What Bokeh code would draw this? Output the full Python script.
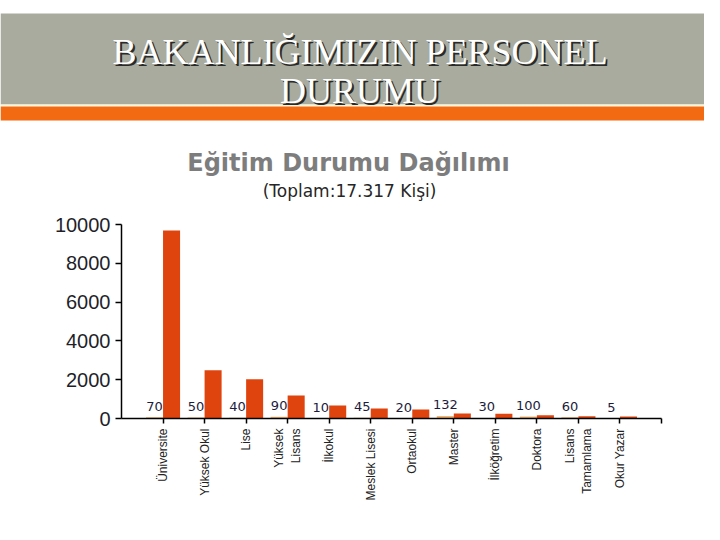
import math
from bokeh.plotting import figure
from bokeh.layouts import column, row
from bokeh.models import Range1d, FixedTicker, ColumnDataSource
from bokeh.core.properties import value
from bokeh.embed import file_html
from bokeh.resources import INLINE

# ---- data ----
categories = ["Üniversite", "Yüksek Okul", "Lise", "Yüksek\nLisans", "İlkokul",
              "Meslek Lisesi", "Ortaokul", "Master", "İlköğretim", "Doktora",
              "Lisans\nTamamlama", "Okur Yazar"]
small_values = [70, 50, 40, 90, 10, 45, 20, 132, 30, 100, 60, 5]
large_values = [9690, 2490, 2020, 1190, 670, 520, 470, 260, 250, 170, 120, 100]
y_ticks = [0, 2000, 4000, 6000, 8000, 10000]

banner_title_1 = "BAKANLIĞIMIZIN PERSONEL"
banner_title_2 = "DURUMU"
chart_title = "Eğitim Durumu Dağılımı"
chart_subtitle = "(Toplam:17.317 Kişi)"

W = 704

# ---- banner / titles figure ----
BH = 210
top = figure(width=W, height=BH, output_backend="svg", toolbar_location=None,
             x_range=Range1d(0, W), y_range=Range1d(BH, 0),
             min_border=0, outline_line_color=None)
top.axis.visible = False
top.grid.visible = False
top.quad(left=[0], right=[W], top=[13], bottom=[104], fill_color="#a8ab9d", line_color=None)
top.quad(left=[0], right=[W], top=[104], bottom=[106], fill_color="#fff6d8", line_color=None)
top.quad(left=[0], right=[W], top=[106], bottom=[120], fill_color="#f26a12", line_color=None)

for txt, yb in [(banner_title_1, 51), (banner_title_2, 90)]:
    top.text(x=[361.5], y=[yb + 2], text=[txt], text_font=value("Liberation Serif"),
             text_font_size="36px", text_color="#2a2a2a", text_align="center",
             text_baseline="alphabetic")
    top.text(x=[359.5], y=[yb], text=[txt], text_font=value("Liberation Serif"),
             text_font_size="36px", text_color="#ffffff", text_align="center",
             text_baseline="alphabetic")

top.text(x=[348], y=[162], text=[chart_title], text_font=value("DejaVu Sans"),
         text_font_size="24px", text_font_style="bold", text_color="#7d7d7d",
         text_align="center", text_baseline="alphabetic")
top.text(x=[349], y=[190], text=[chart_subtitle], text_font=value("DejaVu Sans"),
         text_font_size="17px", text_color="#262626",
         text_align="center", text_baseline="alphabetic")

# ---- chart figure ----
CH = 314
n = len(categories)
xs = list(range(1, n + 1))
src = ColumnDataSource(dict(
    x_small=[x - 0.205 for x in xs],
    x_large=[x + 0.205 for x in xs],
    small=small_values,
    large=large_values,
    lab=[str(v) for v in small_values],
))

p = figure(width=W, height=CH, output_backend="svg", toolbar_location=None,
           x_range=Range1d(0, n + 1), y_range=Range1d(0, 10000),
           min_border_left=121, min_border_right=W - 661, min_border_top=14,
           min_border_bottom=CH - 208, outline_line_color=None)
p.grid.visible = False

p.vbar(x="x_small", top="small", bottom=0, width=0.41, source=src,
       fill_color="#f2b474", line_color=None)
p.vbar(x="x_large", top="large", bottom=0, width=0.41, source=src,
       fill_color="#e0440e", line_color=None)
p.text(x="x_small", y="small", text="lab", source=src, y_offset=-11,
       text_font=value("DejaVu Sans"), text_font_size="13px", text_color="#1c1c3c",
       text_align="center", text_baseline="alphabetic")

p.xaxis.ticker = FixedTicker(ticks=xs + [n + 1])
overrides = {x: c for x, c in zip(xs, categories)}
overrides[n + 1] = ""
p.xaxis.major_label_overrides = overrides
p.xaxis.major_label_orientation = math.pi / 2
p.xaxis.major_label_text_font = "Liberation Sans"
p.xaxis.major_label_text_font_size = "12px"
p.xaxis.major_label_text_color = "#222222"
p.xaxis.major_tick_out = 5
p.xaxis.major_tick_in = 0
p.xaxis.minor_tick_line_color = None
p.xaxis.axis_line_color = "black"
p.xaxis.axis_line_width = 1.5
p.xaxis.major_tick_line_width = 1.5
p.xaxis.major_label_standoff = 5

p.yaxis.ticker = FixedTicker(ticks=y_ticks)
p.yaxis.major_label_text_font = "Liberation Sans"
p.yaxis.major_label_text_font_size = "20px"
p.yaxis.major_label_text_color = "#1f1f2a"
p.yaxis.major_tick_out = 6
p.yaxis.major_tick_in = 0
p.yaxis.minor_tick_line_color = None
p.yaxis.axis_line_color = "black"
p.yaxis.axis_line_width = 1.5
p.yaxis.major_tick_line_width = 1.5
p.yaxis.major_label_standoff = 5

for fig in (top, p):
    if "frame_align" in fig.properties():
        fig.frame_align = False

layout = column(row(top), row(p), spacing=0)
open("out.html", "w").write(file_html(layout, INLINE))
